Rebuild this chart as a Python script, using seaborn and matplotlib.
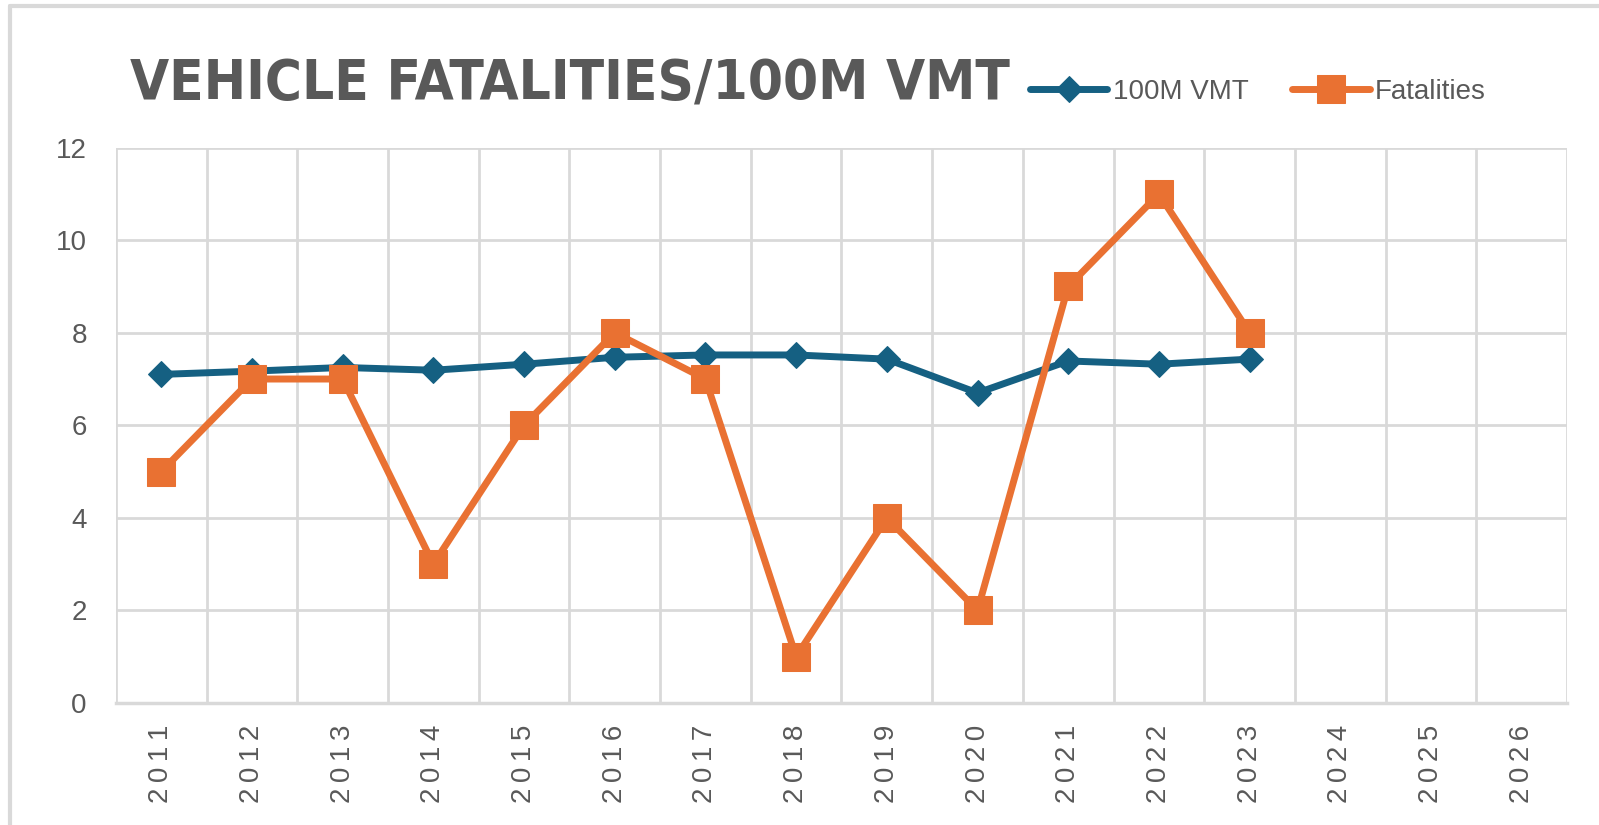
import numpy as np
import pandas as pd
import matplotlib
matplotlib.use("Agg")
import matplotlib.pyplot as plt
from matplotlib.lines import Line2D
import seaborn as sns

years_all = [2011, 2012, 2013, 2014, 2015, 2016, 2017, 2018, 2019, 2020, 2021, 2022, 2023, 2024, 2025, 2026]
years = [2011, 2012, 2013, 2014, 2015, 2016, 2017, 2018, 2019, 2020, 2021, 2022, 2023]
vmt = [7.10, 7.17, 7.25, 7.19, 7.32, 7.47, 7.52, 7.52, 7.43, 6.70, 7.39, 7.32, 7.43]
fatalities = [5, 7, 7, 3, 6, 8, 7, 1, 4, 2, 9, 11, 8]
yticks = [0, 2, 4, 6, 8, 10, 12]
title = "VEHICLE FATALITIES/100M VMT"

BLUE = "#156082"
ORANGE = "#E97132"
GRAY = "#595959"
GRID = "#D9D9D9"

sns.set_style("white")
plt.rcParams['font.family'] = ['Liberation Sans', 'DejaVu Sans']

THIN = "\u2009"

fig = plt.figure(figsize=(15.99, 8.25), dpi=100)
ax = fig.add_axes([0.0725, 0.148, 0.9075, 0.673])

df = pd.DataFrame({"year": years, "vmt": vmt, "fat": fatalities})
sns.lineplot(data=df, x="year", y="vmt", ax=ax, color=BLUE, lw=5, marker="D",
             markersize=13.5, markeredgecolor=BLUE, label="100M VMT", zorder=3)
sns.lineplot(data=df, x="year", y="fat", ax=ax, color=ORANGE, lw=5, marker="s",
             markersize=19.5, markeredgecolor=ORANGE, label="Fatalities", zorder=4)

ax.set_xlim(years_all[0] - 0.5, years_all[-1] + 0.5)
ax.set_ylim(0, 12)
ax.set_yticks(yticks)
ax.set_yticklabels([str(v) for v in yticks], fontsize=20, color=GRAY)
ax.set_xticks(years_all)
ax.set_xticklabels([THIN.join(str(y)) for y in years_all], rotation=90,
                   fontsize=20, color=GRAY)
ax.set_xticks(np.arange(years_all[0] - 0.5, years_all[-1] + 1, 1), minor=True)
ax.tick_params(axis="both", which="both", length=0)
ax.tick_params(axis="x", pad=16)
ax.tick_params(axis="y", pad=21)
ax.grid(False)
ax.grid(True, axis="y", which="major", color=GRID, lw=2)
ax.grid(True, axis="x", which="minor", color=GRID, lw=2)
for s in ["top", "right", "left"]:
    ax.spines[s].set_visible(False)
ax.spines["bottom"].set_color(GRID)
ax.spines["bottom"].set_linewidth(2.5)
ax.set_xlabel("")
ax.set_ylabel("")

fig.text(0.081, 0.897, title, fontsize=40.5, fontweight="bold", color=GRAY,
         family=['DejaVu Sans'], fontstretch="condensed", va="center", ha="left")

leg = ax.legend(loc="center left", bbox_to_anchor=(0.6125, 1.10), ncol=2, frameon=False,
                fontsize=20, handlelength=2.8, handletextpad=0.2, columnspacing=1.55,
                labelcolor=GRAY)

fig.add_artist(Line2D([0.0065, 1.0], [0.993, 0.993], color=GRID, lw=3, transform=fig.transFigure))
fig.add_artist(Line2D([0.0065, 0.0065], [0.0, 0.993], color=GRID, lw=3, transform=fig.transFigure))

fig.savefig("out.png", dpi=100)
